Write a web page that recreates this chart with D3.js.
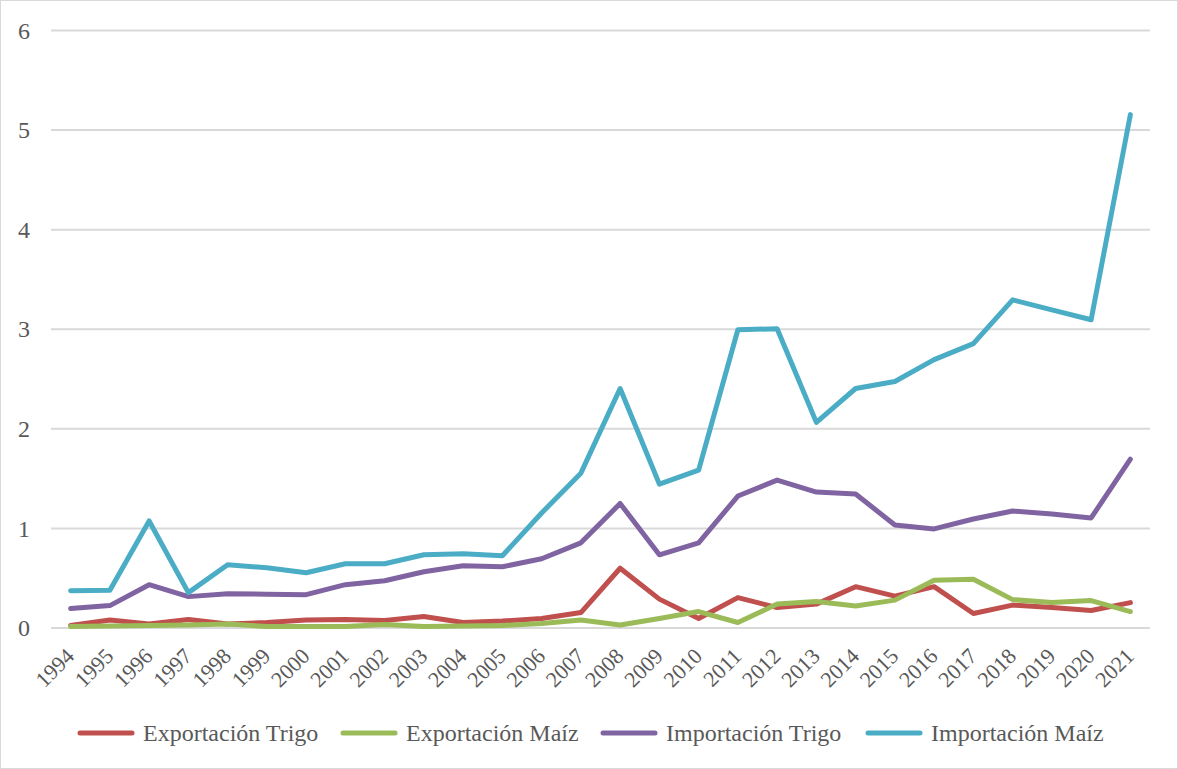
<!DOCTYPE html>
<html><head><meta charset="utf-8">
<script src="https://cdn.jsdelivr.net/npm/d3@7"></script>
<style>
html,body{margin:0;padding:0;background:#fff;}
svg{display:block;}
</style></head>
<body>
<svg id="chart" width="1178" height="769"></svg>
<script>
const years = ["1994","1995","1996","1997","1998","1999","2000","2001","2002","2003","2004","2005","2006","2007","2008","2009","2010","2011","2012","2013","2014","2015","2016","2017","2018","2019","2020","2021"];
const exportacionTrigo = [0.02,0.075,0.035,0.08,0.035,0.05,0.075,0.08,0.07,0.11,0.05,0.065,0.09,0.15,0.595,0.285,0.09,0.30,0.20,0.235,0.41,0.315,0.41,0.14,0.225,0.20,0.17,0.25];
const exportacionMaiz = [0.01,0.015,0.02,0.025,0.035,0.01,0.01,0.01,0.03,0.01,0.015,0.02,0.04,0.075,0.025,0.09,0.16,0.05,0.235,0.26,0.215,0.275,0.475,0.485,0.28,0.25,0.27,0.16];
const importacionTrigo = [0.19,0.22,0.43,0.31,0.34,0.335,0.33,0.43,0.47,0.56,0.62,0.61,0.69,0.85,1.245,0.73,0.85,1.32,1.48,1.36,1.34,1.03,0.99,1.09,1.17,1.14,1.10,1.69];
const importacionMaiz = [0.37,0.375,1.07,0.35,0.63,0.60,0.55,0.64,0.64,0.73,0.74,0.72,1.15,1.55,2.40,1.44,1.58,2.99,3.00,2.06,2.40,2.47,2.69,2.85,3.29,3.19,3.09,5.15];
const seriesNames = ["Exportación Trigo","Exportación Maíz","Importación Trigo","Importación Maíz"];
const seriesColors = ["#C0504D","#9BBB59","#8064A2","#4BACC6"];
const yTicks = [0,1,2,3,4,5,6];

const seriesData = [exportacionTrigo, exportacionMaiz, importacionTrigo, importacionMaiz];

const svg = d3.select("#chart");
const W = 1178, H = 769;
const pLeft = 51, pRight = 1150, pTop = 30, pBottom = 627.5;
const font = "Liberation Serif";

svg.append("rect").attr("x",0.5).attr("y",0.5).attr("width",W-1).attr("height",H-1)
  .attr("fill","#fff").attr("stroke","#d9d9d9").attr("stroke-width",1);

const x = d3.scaleBand().domain(years).range([pLeft,pRight]).paddingInner(0).paddingOuter(0);
const y = d3.scaleLinear().domain([0,6]).range([pBottom,pTop]);

// gridlines
const yAxis = d3.axisLeft(y).tickValues(yTicks).tickSize(-(pRight-pLeft)).tickFormat(d3.format("d"));
const gy = svg.append("g").attr("transform",`translate(${pLeft},0)`).call(yAxis);
gy.select(".domain").remove();
gy.selectAll(".tick line").attr("stroke","#d9d9d9").attr("stroke-width",2);
gy.selectAll(".tick text").attr("fill","#595959").attr("font-family",font).attr("font-size","24px").attr("x",-21).attr("dy","0.34em");

// x axis labels
const xAxis = d3.axisBottom(x).tickSize(0).tickPadding(0);
const gx = svg.append("g").attr("transform",`translate(0,${pBottom})`).call(xAxis);
gx.select(".domain").remove();
gx.selectAll(".tick text")
  .attr("fill","#595959").attr("font-family",font).attr("font-size","22px")
  .attr("text-anchor","end")
  .attr("x",0).attr("y",0).attr("dy","0")
  .attr("transform","translate(5,30) rotate(-45)");

const line = d3.line().x((d,i)=>x(years[i])+x.bandwidth()/2).y(d=>y(d));

seriesData.forEach((s,k)=>{
  svg.append("path").datum(s).attr("d",line)
    .attr("fill","none").attr("stroke",seriesColors[k]).attr("stroke-width",5)
    .attr("stroke-linejoin","round").attr("stroke-linecap","round");
});

// legend
const legendX = [80,343,603,868];
const lg = svg.append("g");
seriesNames.forEach((n,k)=>{
  const g = lg.append("g").attr("transform",`translate(${legendX[k]},733)`);
  g.append("line").attr("x1",0).attr("x2",52).attr("y1",0).attr("y2",0)
    .attr("stroke",seriesColors[k]).attr("stroke-width",5).attr("stroke-linecap","round");
  g.append("text").attr("x",63).attr("y",0).attr("dy","0.35em")
    .attr("fill","#595959").attr("font-family",font).attr("font-size","24px").text(n);
});
</script>
</body></html>
